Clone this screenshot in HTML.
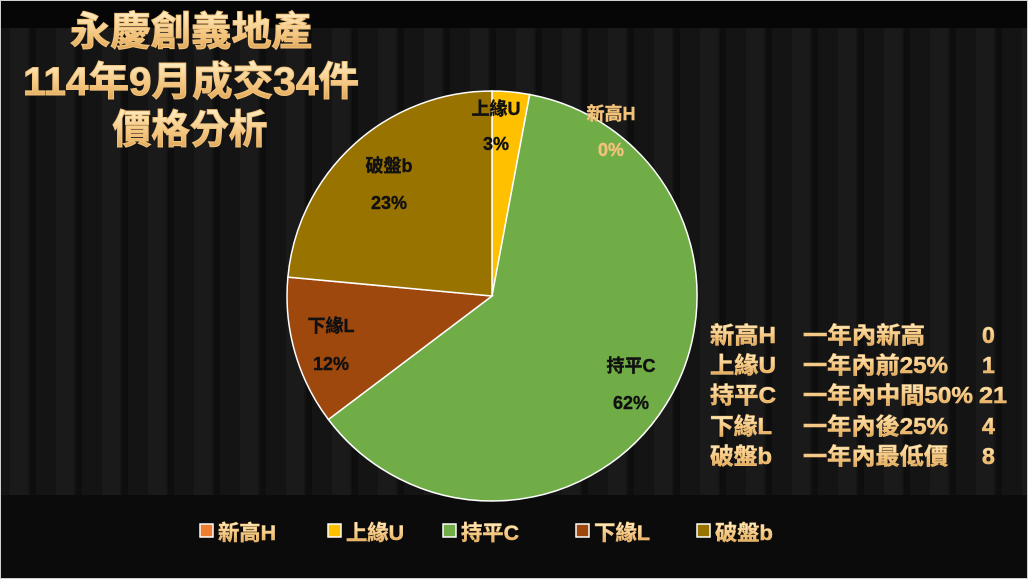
<!DOCTYPE html>
<html><head><meta charset="utf-8"><style>
body{margin:0;width:1028px;height:579px;overflow:hidden;background:#000}
</style></head><body>
<svg width="1028" height="579" xmlns="http://www.w3.org/2000/svg" style="font-family:'Liberation Sans','Noto Sans CJK TC',sans-serif;font-weight:bold;display:block">
<defs>
<linearGradient id="gold" x1="0" y1="0" x2="0" y2="1">
<stop offset="0" stop-color="#fff0c8"/><stop offset="0.6" stop-color="#f2c27a"/><stop offset="1" stop-color="#d9a050"/>
</linearGradient>
<pattern id="cur" width="46" height="579" patternUnits="userSpaceOnUse">
<rect width="46" height="579" fill="#141414"/><rect x="10" width="18" height="579" fill="#1a1a1a"/><rect x="30" width="6" height="579" fill="#0e0e0e"/>
</pattern>
</defs>
<rect width="1028" height="579" fill="url(#cur)"/>
<rect width="1028" height="28" fill="#060606"/>
<rect y="495" width="1028" height="84" fill="#0b0b0b"/>
<rect x="0.5" y="0.5" width="1027" height="578" fill="none" stroke="#d0d0d0" stroke-width="1"/>
<g fill="url(#gold)" font-size="40" text-anchor="middle" stroke="#f2c27a" stroke-width="1">
<text x="191" y="45" textLength="242" lengthAdjust="spacingAndGlyphs">永慶創義地產</text>
<text x="191" y="95" textLength="336" lengthAdjust="spacingAndGlyphs">114年9月成交34件</text>
<text x="190" y="143" textLength="155" lengthAdjust="spacingAndGlyphs">價格分析</text>
</g>
<g stroke="#fff" stroke-width="1.5">
<path d="M492,296 L492,91 A205,205 0 0 1 529.7,94.5 Z" fill="#FFC000"/>
<path d="M492,296 L529.7,94.5 A205,205 0 1 1 328.4,419.5 Z" fill="#70AD47"/>
<path d="M492,296 L328.4,419.5 A205,205 0 0 1 287.9,277.1 Z" fill="#9E480E"/>
<path d="M492,296 L287.9,277.1 A205,205 0 0 1 492,91 Z" fill="#997300"/>
</g>
<g font-size="18" fill="#111" text-anchor="middle" stroke="#111" stroke-width="0.4">
<text x="496" y="115">上緣U</text><text x="496" y="150">3%</text>
<text x="389" y="172">破盤b</text><text x="389" y="209">23%</text>
<text x="331" y="332">下緣L</text><text x="331" y="370">12%</text>
<text x="631" y="372">持平C</text><text x="631" y="409">62%</text>
</g>
<g font-size="18" fill="#f2c27a" text-anchor="middle" stroke="#f2c27a" stroke-width="0.4">
<text x="611" y="120">新高H</text><text x="611" y="156">0%</text>
</g>
<g font-size="23" fill="url(#gold)" stroke="#f2c27a" stroke-width="0.6">
<text x="710" y="343" textLength="66" lengthAdjust="spacingAndGlyphs">新高H</text><text x="803" y="343" textLength="122" lengthAdjust="spacingAndGlyphs">一年內新高</text><text x="982" y="343">0</text>
<text x="710" y="373" textLength="66" lengthAdjust="spacingAndGlyphs">上緣U</text><text x="803" y="373" textLength="145" lengthAdjust="spacingAndGlyphs">一年內前25%</text><text x="982" y="373">1</text>
<text x="710" y="403" textLength="66" lengthAdjust="spacingAndGlyphs">持平C</text><text x="803" y="403" textLength="170" lengthAdjust="spacingAndGlyphs">一年內中間50%</text><text x="979" y="403" textLength="28" lengthAdjust="spacingAndGlyphs">21</text>
<text x="710" y="434" textLength="62" lengthAdjust="spacingAndGlyphs">下緣L</text><text x="803" y="434" textLength="145" lengthAdjust="spacingAndGlyphs">一年內後25%</text><text x="982" y="434">4</text>
<text x="710" y="464" textLength="62" lengthAdjust="spacingAndGlyphs">破盤b</text><text x="803" y="464" textLength="145" lengthAdjust="spacingAndGlyphs">一年內最低價</text><text x="982" y="464">8</text>
</g>
<g stroke="#fff" stroke-width="1.5">
<rect x="200" y="524" width="13" height="13" fill="#ED7D31"/>
<rect x="328" y="524" width="13" height="13" fill="#FFC000"/>
<rect x="443" y="524" width="13" height="13" fill="#70AD47"/>
<rect x="576" y="524" width="13" height="13" fill="#9E480E"/>
<rect x="697" y="524" width="13" height="13" fill="#997300"/>
</g>
<g font-size="21" fill="url(#gold)" stroke="#f2c27a" stroke-width="0.5">
<text x="218" y="540" textLength="58" lengthAdjust="spacingAndGlyphs">新高H</text>
<text x="346" y="540" textLength="58" lengthAdjust="spacingAndGlyphs">上緣U</text>
<text x="461" y="540" textLength="58" lengthAdjust="spacingAndGlyphs">持平C</text>
<text x="594" y="540" textLength="56" lengthAdjust="spacingAndGlyphs">下緣L</text>
<text x="715" y="540" textLength="58" lengthAdjust="spacingAndGlyphs">破盤b</text>
</g>
</svg>
</body></html>
